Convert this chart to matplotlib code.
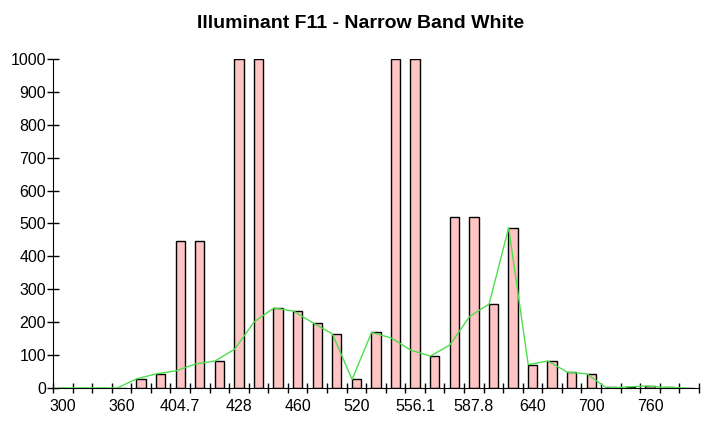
import numpy as np
import matplotlib
matplotlib.use("Agg")
import matplotlib.pyplot as plt

# categorias (so algumas tem rotulo)
rotulos = ["300", "", "", "360", "", "", "404.7", "", "", "428", "", "",
           "460", "", "", "520", "", "", "556.1", "", "", "587.8", "", "",
           "640", "", "", "700", "", "", "760", "", ""]

# barras (potencia relativa)
barras = [0, 0, 0, 0, 28, 43, 448, 448, 82, 1000, 1000, 243, 234, 197, 164, 28,
          170, 1000, 1000, 97, 520, 520, 255, 487, 71, 82, 48, 43, 2, 3, 6, 2, 0]

# linha verde
linha = [0, 0, 0, 0, 28, 43, 52, 73, 82, 118, 201, 243, 234, 198, 164, 26,
         169, 152, 115, 97, 131, 217, 255, 487, 71, 82, 48, 43, 0, 3, 6, 2, 0]

plt.rcParams['font.family'] = ['Liberation Sans', 'DejaVu Sans']

fig = plt.figure(figsize=(7.22, 4.25), dpi=100)
ax = fig.add_axes([0.0734, 0.0871, 0.8946, 0.7741])

x = np.arange(len(barras))
ax.bar(x, barras, width=0.48, color='#FFC4C4', edgecolor='black', linewidth=1, zorder=2)
ax.plot(x - 0.22, linha, color='#4CE04C', linewidth=1, zorder=3)

ax.set_xlim(-0.5, len(barras) - 0.5)
ax.set_ylim(0, 1000)

# ticks nas fronteiras, rotulos no centro
ax.set_xticks(np.arange(-0.5, len(barras), 1.0))
ax.set_xticklabels([])
ax.tick_params(axis='x', which='major', direction='inout', length=7, width=1)
idx = [i for i, r in enumerate(rotulos) if r]
ax.set_xticks(idx, minor=True)
ax.set_xticklabels([rotulos[i] for i in idx], minor=True, fontsize=11.5)
ax.tick_params(axis='x', which='minor', length=0, pad=8)

ax.set_yticks(np.arange(0, 1001, 100))
ax.tick_params(axis='y', direction='inout', length=8, width=1, labelsize=11.5, pad=1)

ax.spines['top'].set_visible(False)
ax.spines['right'].set_visible(False)

fig.suptitle('Illuminant F11 - Narrow Band White', fontsize=14, fontweight='bold', y=0.965)

fig.savefig('out.png', dpi=100)
